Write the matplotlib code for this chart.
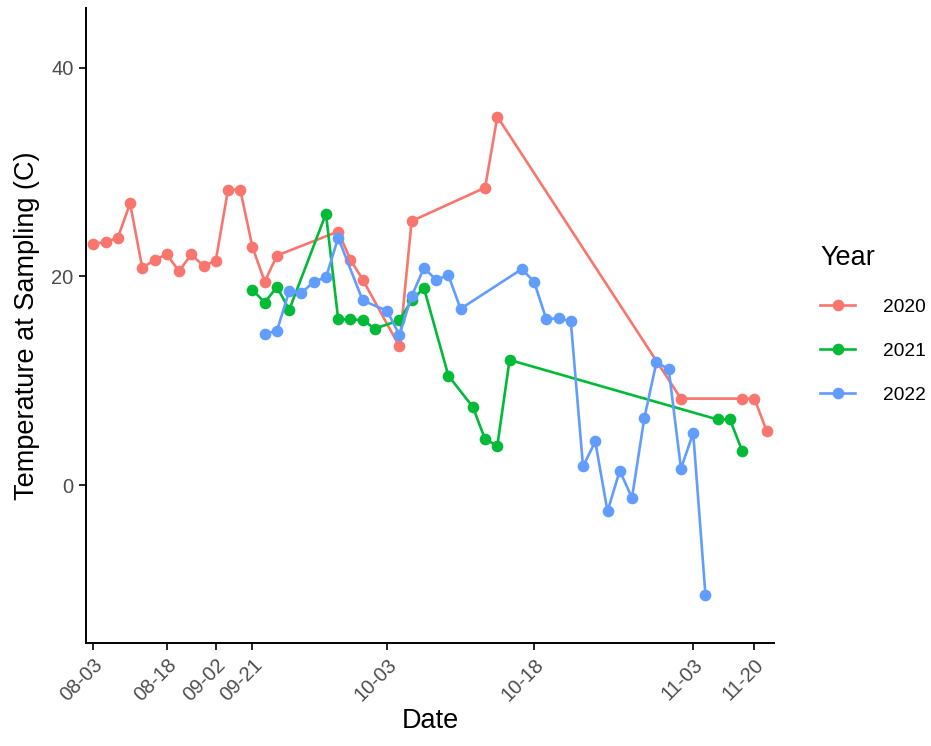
import matplotlib.pyplot as plt
from matplotlib.lines import Line2D

plt.rcParams['font.family'] = ['Liberation Sans', 'DejaVu Sans']

# sampling dates are plotted as ordered categories (position in the list of dates)
n_dates = 56
tick_pos = [0, 6, 10, 13, 24, 36, 49, 54]
tick_labels = ['08-03', '08-18', '09-02', '09-21', '10-03', '10-18', '11-03', '11-20']

years = ['2020', '2021', '2022']
colors = ['#F8766D', '#00BA38', '#619CFF']

pos_2020 = [0, 1, 2, 3, 4, 5, 6, 7, 8, 9, 10, 11, 12, 13, 14, 15,
            20, 21, 22, 25, 26, 32, 33, 48, 53, 54, 55]
temp_2020 = [23.1, 23.3, 23.7, 27.0, 20.8, 21.6, 22.1, 20.5, 22.1, 21.0, 21.5, 28.3, 28.3,
             22.8, 19.5, 22.0, 24.3, 21.6, 19.7, 13.3, 25.3, 28.5, 35.3, 8.3, 8.3, 8.3, 5.2]

pos_2021 = [13, 14, 15, 16, 19, 20, 21, 22, 23, 25, 26, 27, 29, 31, 32, 33, 34, 51, 52, 53]
temp_2021 = [18.7, 17.5, 19.0, 16.8, 26.0, 15.9, 15.9, 15.8, 15.0, 15.8, 17.7, 18.9,
             10.5, 7.5, 4.4, 3.8, 12.0, 6.3, 6.3, 3.3]

pos_2022 = [14, 15, 16, 17, 18, 19, 20, 22, 24, 25, 26, 27, 28, 29, 30, 35, 36, 37, 38, 39,
            40, 41, 42, 43, 44, 45, 46, 47, 48, 49, 50]
temp_2022 = [14.5, 14.8, 18.6, 18.4, 19.5, 19.9, 23.7, 17.7, 16.7, 14.4, 18.1, 20.8, 19.7,
             20.1, 16.9, 20.7, 19.5, 15.9, 16.0, 15.7, 1.8, 4.2, -2.5, 1.4, -1.2, 6.4, 11.8,
             11.1, 1.6, 5.0, -10.5]

series = [(pos_2020, temp_2020), (pos_2021, temp_2021), (pos_2022, temp_2022)]

fig = plt.figure(figsize=(9.31, 7.46), dpi=100)
ax = fig.add_axes([86 / 931, 103 / 746, 688 / 931, 635 / 746])

for (pos, temp), col in zip(series, colors):
    ax.plot(pos, temp, color=col, linewidth=1.9, marker='o', markersize=8.4,
            markeredgewidth=0)

ax.set_xlim(-0.6, n_dates - 1 + 0.6)
ax.set_ylim(-15.1, 45.7)
ax.set_xticks(tick_pos)
ax.set_xticklabels(tick_labels, rotation=45, ha='right', rotation_mode='anchor')
ax.set_yticks([0, 20, 40])

for side in ['top', 'right']:
    ax.spines[side].set_visible(False)
for side in ['left', 'bottom']:
    ax.spines[side].set_linewidth(1.4)
    ax.spines[side].set_color('black')
ax.tick_params(axis='both', length=5, width=1.2, color='black',
               labelsize=14.5, labelcolor='#4D4D4D', pad=4)

ax.set_xlabel('Date', fontsize=19.5, labelpad=2)
ax.set_ylabel('Temperature at Sampling (C)', fontsize=19.5, labelpad=8)

handles = [Line2D([], [], color=c, linewidth=1.9, marker='o', markersize=8.4,
                  markeredgewidth=0) for c in colors]
leg = fig.legend(handles, years, title='Year', loc='upper left',
                 bbox_to_anchor=(803 / 931, 1 - 228 / 746), frameon=False,
                 fontsize=13.8, title_fontsize=19.5, handlelength=1.8,
                 handletextpad=1.5, labelspacing=1.4, numpoints=1)
leg._legend_box.align = 'left'

fig.savefig('out.png', dpi=100)
